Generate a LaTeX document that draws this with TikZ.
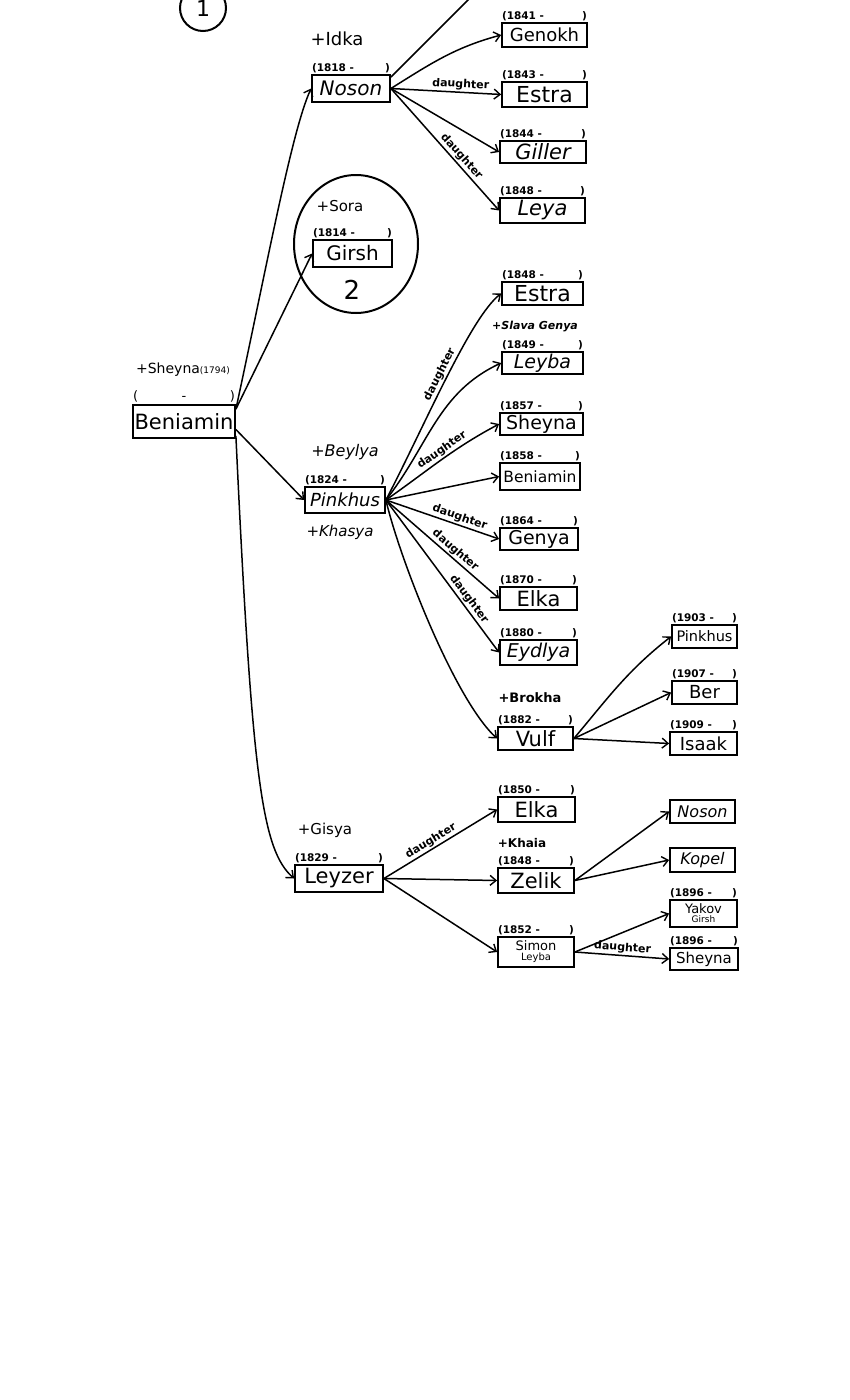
\documentclass[tikz,border=0pt]{standalone}
\usepackage{fontspec}
\setmainfont{DejaVu Sans}
\usetikzlibrary{arrows.meta,shapes.geometric}
\tikzset{
  pbox/.style={draw, line width=1.8pt, inner sep=0pt, align=center},
  yr/.style={inner sep=0pt, font=\fontsize{10.5}{10.5}\selectfont\bfseries},
  conn/.style={line width=1.5pt, -{Straight Barb[length=6pt,width=10pt,line width=1.4pt]}},
  dlab/.style={font=\fontsize{11}{11}\selectfont\bfseries, sloped, above, inner sep=1.5pt},
  spouse/.style={inner sep=0pt}
}
\newcommand\pnode[7]{\node[pbox, minimum width=#4pt, minimum height=#5pt, font=\fontsize{#6}{#6}\selectfont] (#1) at (#2,#3) {#7};}
\newcommand\pyear[3]{\node[yr, text width=#2pt, anchor=south, yshift=1.5pt] (#1-yr) at (#1.north) {(#3\hfill)};}
\begin{document}
\begin{tikzpicture}[x=1pt,y=1pt]
\useasboundingbox (0,0) rectangle (850,-1400);
\fill[white] (0,0) rectangle (850,-1400);

% circle 1
\node[draw, circle, line width=2pt, minimum size=46pt, inner sep=0pt, font=\fontsize{22}{22}\selectfont] (one) at (203,-8) {1};

% generation 1
\pnode{ben}{184}{-421.5}{102}{33}{21}{Beniamin}
\node[yr, text width=102pt, anchor=south, yshift=2pt, font=\fontsize{13}{13}\selectfont] (ben-yr) at (ben.north) {(\hfill-\hfill)};
\node[spouse, font=\fontsize{14}{14}\selectfont] (ben-sp) at (183,-370) {+Sheyna{\fontsize{9}{9}\selectfont(1794)}};

% generation 2
\pnode{noson}{351}{-88.5}{78}{27}{20}{\itshape Noson}
\pyear{noson}{78}{1818 -}
\node[spouse, font=\fontsize{18}{18}\selectfont] (noson-sp) at (337,-39) {+Idka};

\node[draw, ellipse, line width=2pt, minimum width=124pt, minimum height=138pt] (girsh-ring) at (356,-244) {};
\pnode{girsh}{352.5}{-253.5}{79}{27}{20}{Girsh}
\pyear{girsh}{79}{1814 -}
\node[spouse, font=\fontsize{15}{15}\selectfont] (girsh-sp) at (340,-206) {+Sora};
\node[font=\fontsize{26}{26}\selectfont] (two) at (352,-290) {2};

\pnode{pinkhus}{345}{-500}{80}{26}{18}{\itshape Pinkhus}
\pyear{pinkhus}{80}{1824 -}
\node[spouse, font=\fontsize{16}{16}\selectfont\itshape] (pinkhus-sp1) at (345,-452) {+Beylya};
\node[spouse, font=\fontsize{15}{15}\selectfont\itshape] (pinkhus-sp2) at (340,-532) {+Khasya};

\pnode{leyzer}{339}{-878.5}{88}{27}{21}{Leyzer}
\pyear{leyzer}{88}{1829 -}
\node[spouse, font=\fontsize{15}{15}\selectfont] (leyzer-sp) at (325,-830) {+Gisya};

% children of Noson
\pnode{genokh}{544.5}{-35}{85}{24}{18}{Genokh}
\pyear{genokh}{85}{1841 -}
\pnode{estra1}{544.5}{-94.5}{85}{25}{22}{Estra}
\pyear{estra1}{85}{1843 -}
\pnode{giller}{543}{-152}{86}{22}{21}{\itshape Giller}
\pyear{giller}{86}{1844 -}
\pnode{leya}{542.5}{-210.5}{85}{25}{21}{\itshape Leya}
\pyear{leya}{85}{1848 -}
\coordinate (offtop) at (470,2);

% children of Pinkhus
\pnode{estra2}{542.5}{-293.5}{81}{23}{22}{Estra}
\pyear{estra2}{81}{1848 -}
\pnode{leyba}{542.5}{-363}{81}{22}{19}{\itshape Leyba}
\pyear{leyba}{81}{1849 -}
\node[spouse, font=\fontsize{11}{11}\selectfont\bfseries\itshape] (leyba-sp) at (535,-327) {+Slava Genya};
\pnode{sheyna1}{541.5}{-424}{83}{22}{19}{Sheyna}
\pyear{sheyna1}{83}{1857 -}
\pnode{beniamin2}{540}{-476.5}{80}{27}{15.5}{Beniamin}
\pyear{beniamin2}{80}{1858 -}
\pnode{genya}{539}{-539}{78}{22}{19}{Genya}
\pyear{genya}{78}{1864 -}
\pnode{elka1}{538.5}{-598.5}{77}{23}{21}{Elka}
\pyear{elka1}{77}{1870 -}
\pnode{eydlya}{538.5}{-652.5}{77}{25}{19}{\itshape Eydlya}
\pyear{eydlya}{77}{1880 -}
\pnode{vulf}{535.5}{-738.5}{75}{23}{21}{Vulf}
\pyear{vulf}{75}{1882 -}
\node[spouse, font=\fontsize{13}{13}\selectfont\bfseries] (vulf-sp) at (530,-698) {+Brokha};

% children of Vulf
\pnode{pinkhus2}{704.5}{-636.5}{65}{23}{14.5}{Pinkhus}
\pyear{pinkhus2}{65}{1903 -}
\pnode{ber}{704.5}{-692.5}{65}{23}{18}{Ber}
\pyear{ber}{65}{1907 -}
\pnode{isaak}{703.5}{-743.5}{67}{23}{18}{Isaak}
\pyear{isaak}{67}{1909 -}

% children of Leyzer
\pnode{elka2}{536.5}{-809.5}{77}{25}{21}{Elka}
\pyear{elka2}{77}{1850 -}
\pnode{zelik}{536}{-880.5}{76}{25}{21}{Zelik}
\pyear{zelik}{76}{1848 -}
\node[spouse, font=\fontsize{12}{12}\selectfont\bfseries] (zelik-sp) at (522,-843) {+Khaia};
\pnode{simon}{536}{-952}{76}{30}{13}{Simon\\[-3pt]{\fontsize{10}{10}\selectfont Leyba}}
\pyear{simon}{76}{1852 -}

% children of Zelik
\pnode{noson2}{702.5}{-811.5}{65}{23}{16}{\itshape Noson}
\pnode{kopel}{702.5}{-860}{65}{24}{16}{\itshape Kopel}

% children of Simon
\pnode{yakov}{703.5}{-913.5}{67}{27}{13}{Yakov\\[-4pt]{\fontsize{9}{9}\selectfont Girsh}}
\pyear{yakov}{67}{1896 -}
\pnode{sheyna2}{704}{-959}{68}{22}{15}{Sheyna}
\pyear{sheyna2}{68}{1896 -}

% connectors from Beniamin
\draw[conn] ([yshift=-5pt]ben.north east) .. controls (268,-260) and (292,-130) .. (noson.west);
\draw[conn] ([yshift=-5pt]ben.north east) -- (girsh.west);
\draw[conn] ([yshift=-8pt]ben.east) -- (pinkhus.west);
\draw[conn] ([yshift=3pt]ben.south east) .. controls (252,-780) and (262,-850) .. (leyzer.west);

% connectors from Noson
\draw[line width=1.5pt] ([yshift=-3pt]noson.north east) -- (offtop);
\draw[conn] (noson.east) to[out=32,in=-165] (genokh.west);
\draw[conn] (noson.east) -- node[dlab, pos=0.63] {daughter} (estra1.west);
\draw[conn] (noson.east) -- (giller.west);
\draw[conn] (noson.east) -- node[dlab, pos=0.6] {daughter} (leya.west);

% connectors from Pinkhus
\draw[conn] (pinkhus.east) .. controls (425,-425) and (470,-318) .. node[dlab, pos=0.5] {daughter} (estra2.west);
\draw[conn] (pinkhus.east) to[out=52,in=-155] (leyba.west);
\draw[conn] (pinkhus.east) to[out=35,in=-152] node[dlab, pos=0.55] {daughter} (sheyna1.west);
\draw[conn] (pinkhus.east) -- (beniamin2.west);
\draw[conn] (pinkhus.east) -- node[dlab, pos=0.63] {daughter} (genya.west);
\draw[conn] (pinkhus.east) -- node[dlab, pos=0.57] {daughter} (elka1.west);
\draw[conn] (pinkhus.east) -- node[dlab, pos=0.68] {daughter} (eydlya.west);
\draw[conn] (pinkhus.east) .. controls (400,-560) and (455,-700) .. (vulf.west);

% connectors from Vulf
\draw[conn] (vulf.east) to[out=50,in=-142] (pinkhus2.west);
\draw[conn] (vulf.east) -- (ber.west);
\draw[conn] (vulf.east) -- (isaak.west);

% connectors from Leyzer
\draw[conn] (leyzer.east) -- node[dlab, pos=0.45] {daughter} (elka2.west);
\draw[conn] (leyzer.east) -- (zelik.west);
\draw[conn] (leyzer.east) -- (simon.west);

% connectors from Zelik
\draw[conn] (zelik.east) -- (noson2.west);
\draw[conn] (zelik.east) -- (kopel.west);

% connectors from Simon
\draw[conn] (simon.east) -- (yakov.west);
\draw[conn] (simon.east) -- node[dlab, pos=0.5] {daughter} (sheyna2.west);
\end{tikzpicture}
\end{document}
